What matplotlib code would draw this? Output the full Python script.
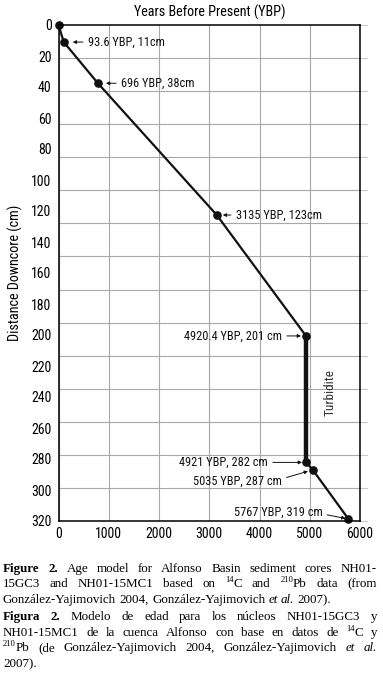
import re
import matplotlib
matplotlib.use('Agg')
import matplotlib.pyplot as plt
from matplotlib import font_manager
import numpy as np

# age model points (x as drawn in the figure, depth in cm)
ages = [0, 105, 785, 3150, 4925, 4925, 5060, 5770]
depths = [0, 11, 37.6, 122.6, 200.6, 282.2, 287, 318.7]
labels = ['', '93.6 YBP, 11cm', '696 YBP, 38cm', '3135 YBP, 123cm',
          '4920.4 YBP, 201 cm', '4921 YBP, 282 cm', '5035 YBP, 287 cm',
          '5767 YBP, 319 cm']
x_ticks = [0, 1000, 2000, 3000, 4000, 5000, 6000]
y_ticks = list(range(0, 321, 20))

caption_en = [
    "**Figure** **2.** Age model for Alfonso Basin sediment cores NH01-",
    "15GC3 and NH01-15MC1 based on ^14^C and ^210^Pb data (from",
    "González-Yajimovich 2004, González-Yajimovich _et_ _al._ 2007).",
]
caption_es = [
    "**Figura** **2.** Modelo de edad para los núcleos NH01-15GC3 y",
    "NH01-15MC1 de la cuenca Alfonso con base en datos de ^14^C y",
    "^210^Pb (de González-Yajimovich 2004, González-Yajimovich _et_ _al._",
    "2007).",
]

W, H = 383, 690
have = {f.name for f in font_manager.fontManager.ttflist}
narrow = [n for n in ['Liberation Sans Narrow', 'Arial Narrow', 'Roboto Condensed',
                      'Archivo Narrow', 'Liberation Sans'] if n in have][0]
sans = [narrow, 'DejaVu Sans']
serif = ['Liberation Serif', 'DejaVu Serif']
plt.rcParams['font.family'] = sans

fig = plt.figure(figsize=(W / 100, H / 100), dpi=100)
ax = fig.add_axes([58.5 / W, 1 - 521 / H, (360 - 58.5) / W, (521 - 25) / H])

ax.plot(ages, depths, color='#111111', lw=1.6, marker='o', ms=5.2,
        zorder=3, clip_on=False)
ax.plot(ages[4:6], depths[4:6], color='#111111', lw=3.2, zorder=3)

ax.set_xlim(0, 6000)
ax.set_ylim(320, 0)
ax.set_xticks(x_ticks)
ax.set_yticks(y_ticks)
grid_y = np.linspace(0, 320, 16)
ax.set_yticks(grid_y, minor=True)
ax.tick_params(axis='both', which='both', length=0, labelsize=10)
ax.tick_params(axis='x', pad=4)
ax.tick_params(axis='y', pad=5)
ax.grid(axis='x', which='major', color='#a8a8a8', lw=0.8)
ax.grid(axis='y', which='minor', color='#a8a8a8', lw=0.8)
for gy in grid_y:
    ax.plot([1, 1.024], [gy, gy], transform=ax.get_yaxis_transform(),
            color='#c8c8c8', lw=0.8, clip_on=False)
for sp in ax.spines.values():
    sp.set_linewidth(1.1)
    sp.set_zorder(4)
ax.set_ylabel('Distance Downcore (cm)', fontsize=10.2, labelpad=6)
fig.text(210 / W, 1 - 12 / H, 'Years Before Present (YBP)',
         ha='center', va='center', fontsize=10.2)

ax.text(5400, 237, 'Turbidite', rotation=90, ha='center', va='center',
        fontsize=9.5, color='#333333')

# (dx, dy in px, ha, relpos, shrink to point in px)
ann = [None,
       (24, 0, 'left', (0, 0.5), 9),
       (23, 0, 'left', (0, 0.5), 8),
       (19, 0, 'left', (0, 0.5), 6),
       (-24, 0, 'right', (1, 0.5), 5),
       (-38, 0, 'right', (1, 0.5), 4),
       (-31, -11, 'right', (1, 0.65), 5),
       (-26, 7, 'right', (1, 0.35), 3)]
for a, d, lab, spec in zip(ages, depths, labels, ann):
    if spec is None:
        continue
    dx, dy, ha, rp, shr = spec
    ax.annotate(lab, xy=(a, d), xytext=(dx * 0.72, dy * 0.72),
                textcoords='offset points', ha=ha, va='center',
                fontsize=8.9, color='#111111',
                arrowprops=dict(arrowstyle='-|>', lw=0.7, color='#111111',
                                mutation_scale=5, relpos=rp,
                                shrinkA=1.5, shrinkB=shr * 0.72))

# justified caption
renderer = fig.canvas.get_renderer()
fs = 9.4
left, right = 3, 377


def parse(word):
    out = []
    for tok in re.findall(r'\*\*[^*]+\*\*|\^[^^]+\^|_[^_]+_|[^*^_]+', word):
        if tok.startswith('**'):
            out.append((tok[2:-2], 'b'))
        elif tok.startswith('^'):
            out.append((tok[1:-1], 's'))
        elif tok.startswith('_'):
            out.append((tok[1:-1], 'i'))
        else:
            out.append((tok, 'n'))
    return out


def make(txt, kind):
    size = fs * 0.65 if kind == 's' else fs
    t = fig.text(0, 0, txt, fontsize=size, family=serif, va='baseline',
                 ha='left', fontweight='bold' if kind == 'b' else 'normal',
                 fontstyle='italic' if kind == 'i' else 'normal')
    return t, t.get_window_extent(renderer).width


def draw_line(line, ybase, justify):
    words = []
    total = 0
    for w in line.split(' '):
        parts = [make(txt, k) + (k,) for txt, k in parse(w)]
        words.append(parts)
        total += sum(p[1] for p in parts)
    gap = fs * 1.389 * 0.25
    if justify and len(words) > 1:
        gap = (right - left - total) / (len(words) - 1)
    x = left
    for parts in words:
        for t, w, k in parts:
            rise = fs * 1.389 * 0.38 if k == 's' else 0
            t.set_position((x / W, 1 - (ybase - rise) / H))
            x += w
        x += gap


for i, line in enumerate(caption_en):
    draw_line(line, 571.7 + i * 15.6, i < len(caption_en) - 1)
for i, line in enumerate(caption_es):
    draw_line(line, 620 + i * 15.6, i < len(caption_es) - 1)

fig.savefig('out.png', dpi=100)
